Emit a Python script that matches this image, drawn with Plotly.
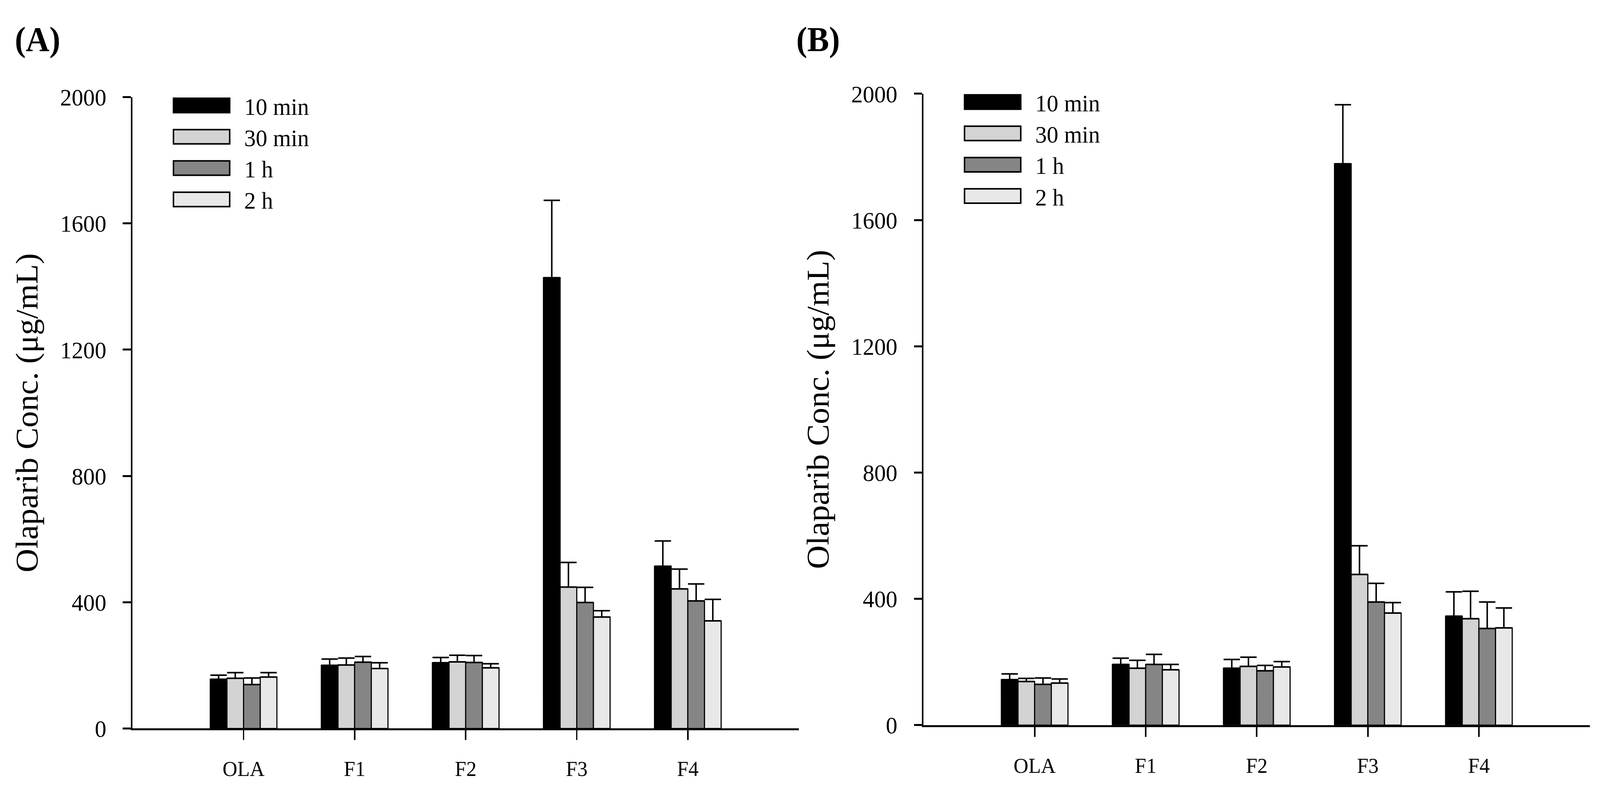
import plotly.graph_objects as go

categories = ["OLA", "F1", "F2", "F3", "F4"]
series_names = ["10 min", "30 min", "1 h", "2 h"]
series_colors = ["#000000", "#d3d3d3", "#858585", "#e8e8e8"]
y_ticks = [0, 400, 800, 1200, 1600, 2000]

# Panel A means and upper SD
a_10min = [156, 200, 208, 1428, 514]
a_10min_err = [13, 20, 17, 245, 80]
a_30min = [159, 201, 211, 448, 442]
a_30min_err = [18, 22, 21, 78, 63]
a_1h = [139, 210, 209, 399, 404]
a_1h_err = [21, 18, 22, 48, 54]
a_2h = [163, 190, 192, 353, 341]
a_2h_err = [14, 18, 13, 20, 68]

# Panel B means and upper SD
b_10min = [144, 192, 180, 1778, 345]
b_10min_err = [18, 20, 28, 187, 77]
b_30min = [138, 180, 186, 477, 337]
b_30min_err = [10, 25, 29, 91, 87]
b_1h = [129, 192, 172, 390, 306]
b_1h_err = [20, 32, 17, 59, 84]
b_2h = [133, 175, 184, 355, 308]
b_2h_err = [13, 17, 17, 33, 63]

W, H = 4298, 2027
FONT = "Liberation Serif"

panels = [
    dict(name="(A)", xa="x", ya="y",
         vals=[a_10min, a_30min, a_1h, a_2h],
         errs=[a_10min_err, a_30min_err, a_1h_err, a_2h_err],
         left=356, right=2146, top=223, bottom=1895, label_x=38),
    dict(name="(B)", xa="x2", ya="y2",
         vals=[b_10min, b_30min, b_1h, b_2h],
         errs=[b_10min_err, b_30min_err, b_1h_err, b_2h_err],
         left=2481, right=4271, top=214, bottom=1886, label_x=2137),
]

fig = go.Figure()
xpos = list(range(len(categories)))

for p in panels:
    for name, color, v, e in zip(series_names, series_colors, p["vals"], p["errs"]):
        fig.add_trace(go.Bar(
            x=xpos, y=v, name=name, xaxis=p["xa"], yaxis=p["ya"],
            marker=dict(color=color, line=dict(color="black", width=3)),
            error_y=dict(type="data", symmetric=False, array=e,
                         arrayminus=[0] * len(e), color="black",
                         thickness=4, width=22),
            showlegend=False,
        ))

def px_x(v):
    return v / W

def px_y(v):
    return 1 - v / H

shapes = []
annotations = []
layout_axes = {}
for i, p in enumerate(panels):
    sfx = "" if i == 0 else "2"
    layout_axes["xaxis" + sfx] = dict(
        domain=[px_x(p["left"]), px_x(p["right"])],
        anchor="y" + sfx, range=[-1, 5],
        tickmode="array", tickvals=xpos, ticktext=categories,
        ticks="outside", ticklen=25, tickwidth=4, tickcolor="black",
        showline=True, linewidth=5, linecolor="black",
        showgrid=False, zeroline=False,
        tickfont=dict(family=FONT, size=55, color="black"),
        ticklabelstandoff=26,
    )
    layout_axes["yaxis" + sfx] = dict(
        domain=[px_y(p["bottom"]), px_y(p["top"])],
        anchor="x" + sfx, range=[0, 2000],
        tickmode="array", tickvals=y_ticks,
        ticks="outside", ticklen=21, tickwidth=5, tickcolor="black",
        showline=True, linewidth=5, linecolor="black",
        showgrid=False, zeroline=False,
        tickfont=dict(family=FONT, size=62, color="black"),
        ticklabelstandoff=32,
        title=dict(text="Olaparib Conc. (\u03bcg/mL)",
                   font=dict(family=FONT, size=84, color="black"),
                   standoff=34),
    )
    annotations.append(dict(
        text="<b>" + p["name"] + "</b>", xref="paper", yref="paper",
        x=px_x(p["label_x"]), y=px_y(18), xanchor="left", yanchor="top",
        showarrow=False, font=dict(family=FONT, size=88, color="black"),
    ))
    for k, (name, color) in enumerate(zip(series_names, series_colors)):
        cy = p["top"] + 22 + 83 * k
        shapes.append(dict(
            type="rect", xref="paper", yref="paper",
            x0=px_x(p["left"] + 110), x1=px_x(p["left"] + 261),
            y0=px_y(cy - 19), y1=px_y(cy + 19),
            fillcolor=color, line=dict(color="black", width=4),
        ))
        annotations.append(dict(
            text=name, xref="paper", yref="paper",
            x=px_x(p["left"] + 298), y=px_y(cy + 3),
            xanchor="left", yanchor="middle", showarrow=False,
            font=dict(family=FONT, size=62, color="black"),
        ))

fig.update_layout(
    width=W, height=H, autosize=False,
    margin=dict(l=0, r=0, t=0, b=0),
    paper_bgcolor="white", plot_bgcolor="white",
    barmode="group", bargap=0.4, bargroupgap=0,
    showlegend=False,
    shapes=shapes, annotations=annotations,
    font=dict(family=FONT, color="black"),
    **layout_axes,
)

# Fit the fixed-size figure exactly into the browser viewport
post = (
    "document.documentElement.style.margin='0';"
    "document.documentElement.style.overflow='hidden';"
    "document.body.style.margin='0';"
    "document.body.style.overflow='hidden';"
    "var gd=document.getElementById('{plot_id}');"
    "gd.style.position='fixed';gd.style.left='0';gd.style.top='0';"
    "gd.style.transformOrigin='0 0';"
    "gd.style.transform='scale('+(window.innerWidth/" + str(W) + ")+','"
    "+(window.innerHeight/" + str(H) + ")+')';"
)

fig.write_html("out.html", full_html=True, post_script=post,
               config={"displayModeBar": False})
